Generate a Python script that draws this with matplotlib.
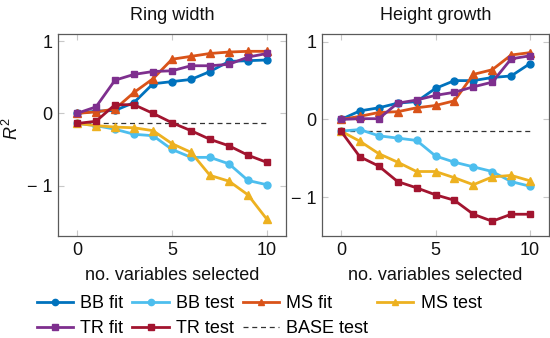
import matplotlib
matplotlib.use("Agg")
import matplotlib.pyplot as plt
from matplotlib.ticker import FuncFormatter, FixedLocator
from matplotlib.lines import Line2D

plt.rcParams['font.family'] = ['Liberation Sans', 'DejaVu Sans']
plt.rcParams['mathtext.fontset'] = 'custom'
plt.rcParams['mathtext.it'] = 'Liberation Sans:italic'
plt.rcParams['mathtext.rm'] = 'Liberation Sans'

n_vars = list(range(11))

# Ring width
ring_bb_fit = [0.00, 0.03, 0.04, 0.15, 0.41, 0.44, 0.47, 0.58, 0.72, 0.73, 0.74]
ring_bb_test = [-0.14, -0.17, -0.22, -0.29, -0.31, -0.50, -0.61, -0.61, -0.70, -0.93, -0.99]
ring_ms_fit = [0.00, 0.02, 0.06, 0.29, 0.48, 0.75, 0.79, 0.83, 0.85, 0.86, 0.86]
ring_ms_test = [-0.14, -0.17, -0.19, -0.20, -0.24, -0.42, -0.54, -0.86, -0.94, -1.13, -1.47]
ring_tr_fit = [0.00, 0.09, 0.46, 0.54, 0.58, 0.59, 0.66, 0.66, 0.68, 0.78, 0.83]
ring_tr_test = [-0.14, -0.11, 0.12, 0.12, 0.00, -0.13, -0.24, -0.36, -0.45, -0.58, -0.68]
ring_base_test = -0.14

# Height growth
height_bb_fit = [0.00, 0.11, 0.15, 0.21, 0.23, 0.40, 0.50, 0.50, 0.54, 0.56, 0.72]
height_bb_test = [-0.15, -0.13, -0.21, -0.24, -0.27, -0.47, -0.55, -0.61, -0.67, -0.80, -0.86]
height_ms_fit = [0.00, 0.04, 0.09, 0.10, 0.15, 0.18, 0.24, 0.58, 0.64, 0.83, 0.86]
height_ms_test = [-0.15, -0.28, -0.44, -0.55, -0.67, -0.67, -0.75, -0.84, -0.74, -0.72, -0.79]
height_tr_fit = [0.00, 0.01, 0.01, 0.21, 0.25, 0.31, 0.35, 0.42, 0.48, 0.78, 0.82]
height_tr_test = [-0.15, -0.48, -0.60, -0.80, -0.88, -0.97, -1.04, -1.22, -1.31, -1.22, -1.22]
height_base_test = -0.15

titles = ["Ring width", "Height growth"]
x_ticks = [0, 5, 10]
y_ticks = [-1, 0, 1]

styles = {
    "BB fit": dict(color="#0072BD", marker="o"),
    "BB test": dict(color="#4DBEEE", marker="o"),
    "MS fit": dict(color="#D95319", marker="^"),
    "MS test": dict(color="#EDB120", marker="^"),
    "TR fit": dict(color="#7E2F8E", marker="s"),
    "TR test": dict(color="#A2142F", marker="s"),
}

panels = [
    dict(series={"BB fit": ring_bb_fit, "BB test": ring_bb_test,
                 "MS fit": ring_ms_fit, "MS test": ring_ms_test,
                 "TR fit": ring_tr_fit, "TR test": ring_tr_test},
         base=ring_base_test, ylim=(-1.7, 1.1)),
    dict(series={"BB fit": height_bb_fit, "BB test": height_bb_test,
                 "MS fit": height_ms_fit, "MS test": height_ms_test,
                 "TR fit": height_tr_fit, "TR test": height_tr_test},
         base=height_base_test, ylim=(-1.5, 1.1)),
]

W, H = 550, 338
fig = plt.figure(figsize=(W / 100, H / 100), dpi=100)
rects = [(58, 34, 286, 236), (322, 34, 549, 236)]


def fmt(v, _):
    v = int(round(v))
    return f"\u2212 {abs(v)}" if v < 0 else f"{v}"


fs = 13
for i, (rect, panel, title) in enumerate(zip(rects, panels, titles)):
    l, t, r, b = rect
    ax = fig.add_axes([l / W, 1 - b / H, (r - l) / W, (b - t) / H])
    ax.plot([0, 10], [panel["base"]] * 2, color="#333333", lw=0.9,
            ls=(0, (4, 3)), zorder=2)
    for name in ["BB fit", "BB test", "MS fit", "MS test", "TR fit", "TR test"]:
        st = styles[name]
        ms = 5.5 if st["marker"] == "^" else 5
        ax.plot(n_vars, panel["series"][name], color=st["color"], lw=2.0,
                marker=st["marker"], ms=ms, mec=st["color"], zorder=3)
    ax.set_xlim(-1, 11)
    ax.set_ylim(*panel["ylim"])
    ax.xaxis.set_major_locator(FixedLocator(x_ticks))
    ax.yaxis.set_major_locator(FixedLocator(y_ticks))
    ax.yaxis.set_major_formatter(FuncFormatter(fmt))
    ax.tick_params(direction="in", length=4, width=0.8, color="#c8c8c8",
                   top=True, right=True, labelsize=fs, pad=4,
                   labelcolor="#111111")
    for sp in ax.spines.values():
        sp.set_color("#5a5a5a")
        sp.set_linewidth(0.9)
    ax.set_title(title, fontsize=fs, pad=10, color="#111111")
    ax.set_xlabel("no. variables selected", fontsize=fs, labelpad=6,
                  color="#111111")
    if i == 0:
        ax.set_ylabel("$R^2$", fontsize=fs, color="#111111")
        ax.yaxis.set_label_coords(-(58 - 22) / (r - l), 0.53)

# legend, filled column by column so it reads row by row
def handle(name):
    st = styles[name]
    return Line2D([], [], color=st["color"], lw=2.0, marker=st["marker"],
                  ms=4.5, mec=st["color"])

base_handle = Line2D([], [], color="#333333", lw=0.9, ls=(0, (4, 3)))
entries = [("BB fit", handle("BB fit")), ("TR fit", handle("TR fit")),
           ("BB test", handle("BB test")), ("TR test", handle("TR test")),
           ("MS fit", handle("MS fit")), ("BASE test", base_handle),
           ("MS test", handle("MS test"))]
fig.legend([h for _, h in entries], [n for n, _ in entries], ncol=4,
           loc="upper left", bbox_to_anchor=(37 / W, 1 - 295 / H),
           frameon=False, fontsize=fs, handlelength=2.0, handletextpad=0.4,
           columnspacing=0.5, labelspacing=0.45, borderpad=0,
           borderaxespad=0)

fig.savefig("out.png", dpi=100)
